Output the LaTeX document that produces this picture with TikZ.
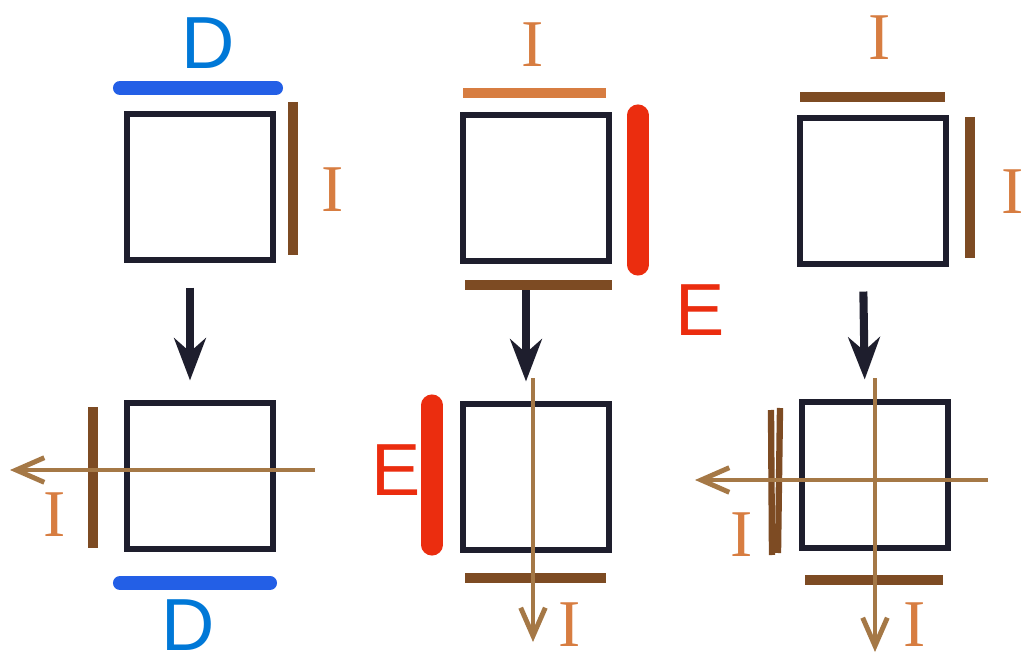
\documentclass[tikz,border=0pt]{standalone}
\usepackage{fontspec}
\setmainfont{Liberation Serif}
\setsansfont{Liberation Sans}
\usepackage{tikz}
\usetikzlibrary{positioning, calc, arrows.meta}

\definecolor{boxline}{RGB}{30,30,45}
\definecolor{dblue}{RGB}{35,95,230}
\definecolor{dtxt}{RGB}{0,120,215}
\definecolor{iorange}{RGB}{215,125,65}
\definecolor{ibrown}{RGB}{125,75,35}
\definecolor{itan}{RGB}{165,120,70}
\definecolor{ered}{RGB}{235,45,15}

\tikzset{
  box/.style={draw=boxline, line width=1.7pt, minimum width=1.45cm, minimum height=1.45cm, inner sep=0pt},
  blueline/.style={draw=dblue, line width=4pt, line cap=round},
  redline/.style={draw=ered, line width=6pt, line cap=round},
  brownline/.style={draw=ibrown, line width=3pt},
  thinbrown/.style={draw=ibrown, line width=1.8pt},
  orangeline/.style={draw=iorange, line width=3pt},
  flow/.style={draw=boxline, line width=2.3pt, -{Stealth[length=12pt,width=9pt]}},
  pass/.style={draw=itan, line width=1.1pt, -{Straight Barb[length=8pt,width=7pt,line width=1.4pt]}}
}
\tikzset{
  dlabel/.style={inner sep=0pt, text=dtxt, font=\sffamily\fontsize{21}{21}\selectfont}
}
\tikzset{
  elabel/.style={inner sep=0pt, text=ered, font=\sffamily\fontsize{21}{21}\selectfont}
}
\tikzset{
  ilabel/.style={inner sep=0pt, text=iorange, font=\rmfamily\fontsize{19}{19}\selectfont}
}

\begin{document}
\begin{tikzpicture}[x=0.01cm, y=-0.01cm]
      \useasboundingbox (0,0) rectangle (1024,664);
      % the six squares
      \node[box] (s1a) at (200,187) {};
      \node[box] (s1b) at (200,476) {};
      \node[box] (s2a) at (536,188) {};
      \node[box] (s2b) at (536,477) {};
      \node[box] (s3a) at (873,191) {};
      \node[box] (s3b) at (875,475) {};
      % top to bottom
      \draw[flow, shorten <=0.25cm, shorten >=0.2cm] ([xshift=-0.1cm]s1a.south) -- ([xshift=-0.1cm]s1b.north);
      \draw[flow, shorten <=0.25cm, shorten >=0.2cm] ([xshift=-0.1cm]s2a.south) -- ([xshift=-0.1cm]s2b.north);
      \draw[flow, shorten <=0.25cm, shorten >=0.2cm] ([xshift=-0.1cm]s3a.south) -- ([xshift=-0.1cm]s3b.north);
      % first column
      \draw[blueline] (120,88) -- (276,88);
      \draw[brownline] (293,102) -- (293,255);
      \draw[brownline] (93,407) -- (93,548);
      \draw[blueline] (120,583) -- (270,583);
      \coordinate (h1in) at (315,470);
      \coordinate (h1out) at (10,470);
      \draw[pass] (h1in) -- (h1out);
      \node[dlabel] (d1a) at (208,43) {D};
      \node[ilabel] (i1a) at (333,190) {I};
      \node[ilabel] (i1b) at (55,515) {I};
      \node[dlabel] (d1b) at (188,625) {D};
      % second column
      \draw[orangeline] (463,93) -- (606,93);
      \draw[redline] (638,115) -- (638,265);
      \draw[brownline] (465,285) -- (612,285);
      \draw[redline] (432,405) -- (432,545);
      \draw[brownline] (465,578) -- (606,578);
      \coordinate (v2in) at (533,378);
      \coordinate (v2out) at (533,642);
      \draw[pass] (v2in) -- (v2out);
      \node[ilabel] (i2a) at (533,45) {I};
      \node[elabel] (e2a) at (700,310) {E};
      \node[elabel] (e2b) at (396,470) {E};
      \node[ilabel] (i2b) at (570,625) {I};
      % third column
      \draw[brownline] (800,97) -- (945,97);
      \draw[brownline] (970,117) -- (970,258);
      \draw[thinbrown] (771,410) -- (772,555);
      \draw[thinbrown] (780,408) -- (778,553);
      \draw[brownline] (805,580) -- (943,580);
      \coordinate (h3in) at (988,480);
      \coordinate (h3out) at (695,480);
      \coordinate (v3in) at (875,378);
      \coordinate (v3out) at (875,652);
      \draw[pass] (h3in) -- (h3out);
      \draw[pass] (v3in) -- (v3out);
      \node[ilabel] (i3a) at (880,38) {I};
      \node[ilabel] (i3b) at (1013,192) {I};
      \node[ilabel] (i3c) at (742,535) {I};
      \node[ilabel] (i3d) at (915,625) {I};
\end{tikzpicture}
\end{document}
